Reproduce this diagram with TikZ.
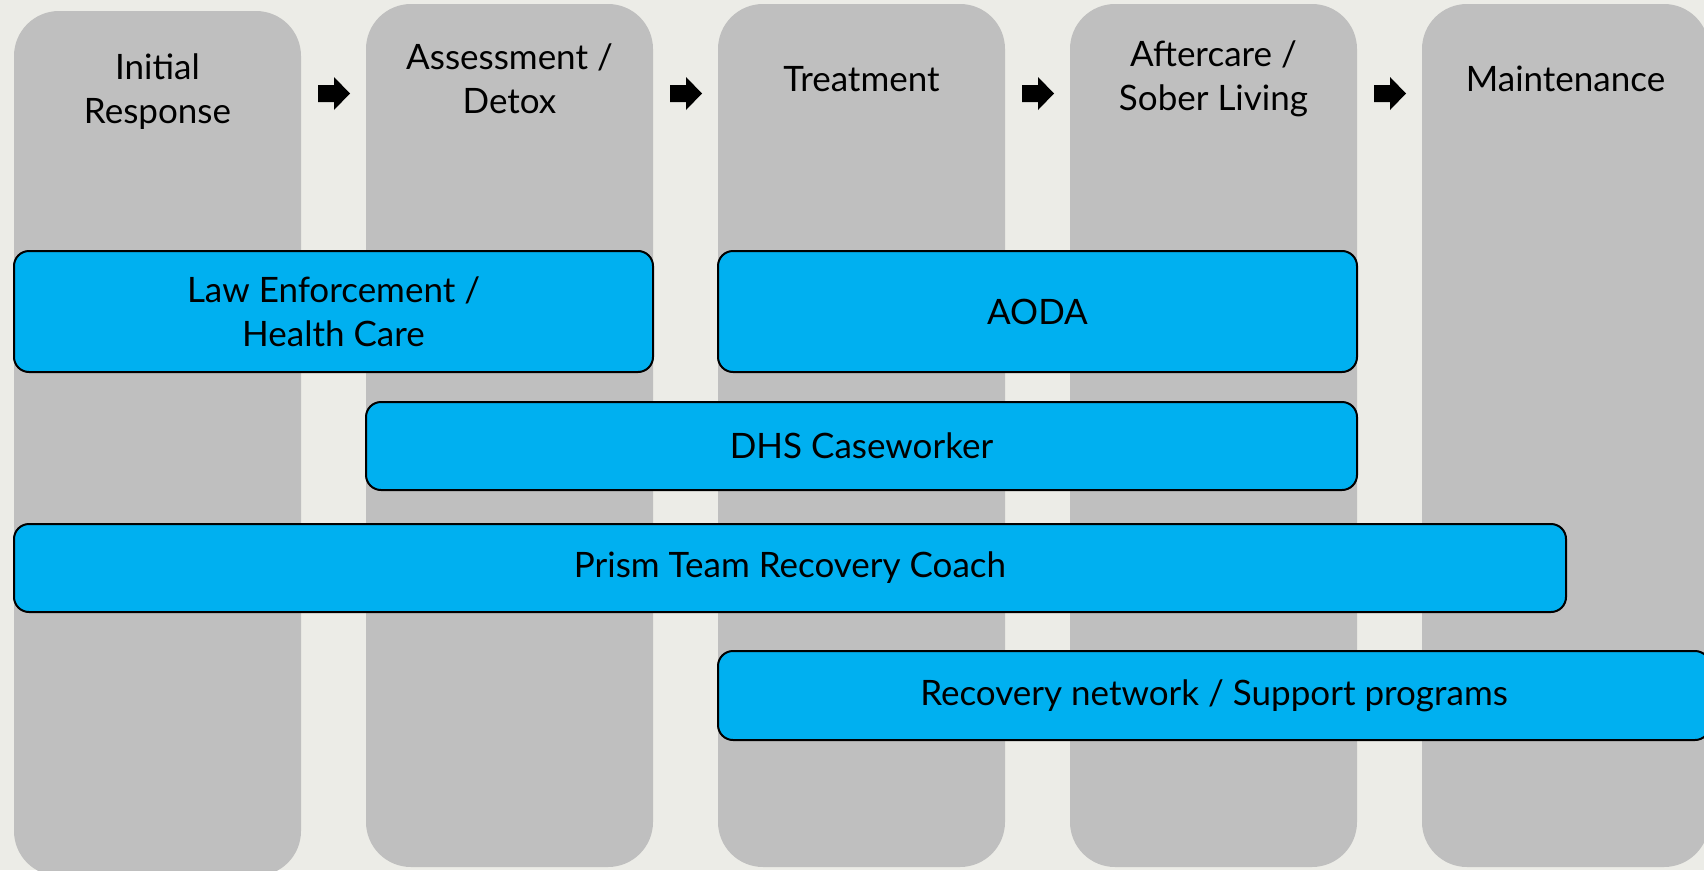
\documentclass[tikz,border=0pt]{standalone}
\usepackage{fontspec}
\setmainfont{Lato}
\definecolor{bg}{RGB}{236,236,231}
\definecolor{colgray}{RGB}{191,191,191}
\definecolor{barblue}{RGB}{0,176,240}
\begin{document}
\begin{tikzpicture}[x=1pt,y=-1pt,
  col/.style={fill=colgray, rounded corners=45pt, minimum width=287pt, inner sep=0pt},
  lab/.style={align=center, font=\fontsize{35}{44}\selectfont, text=black, inner sep=0pt},
  bar/.style={fill=barblue, draw=black, line width=2pt, rounded corners=15pt, inner sep=0pt,
              align=center, font=\fontsize{35}{44}\selectfont, text=black},
  blockarrow/.style={fill=black}]
\fill[bg] (0,0) rectangle (1704,870);
\useasboundingbox (0,0) rectangle (1704,870);
\clip (0,0) rectangle (1704,870);
% columns
\node[col, minimum height=865pt] (c1) at (157.5,443.5) {};
\node[col, minimum height=863pt] (c2) at (509.5,435.5) {};
\node[col, minimum height=863pt] (c3) at (861.5,435.5) {};
\node[col, minimum height=863pt] (c4) at (1213.5,435.5) {};
\node[col, minimum height=863pt] (c5) at (1565.5,435.5) {};
% column labels
\node[lab] (l1) at (157.5,92) {Initial\\Response};
\node[lab] (l2) at (509.5,79) {Assessment /\\Detox};
\node[lab] (l3) at (861.5,79) {Treatment};
\node[lab] (l4) at (1213.5,79) {Aftercare /\\Sober Living};
\node[lab] (l5) at (1565.5,79) {Maintenance};
% arrows
\foreach \ax in {318,670,1022,1374}{
  \fill[blockarrow] (\ax,85) -- (\ax+16,85) -- (\ax+16,77) -- (\ax+32,93.5)
     -- (\ax+16,110) -- (\ax+16,102) -- (\ax,102) -- cycle;
}
% bars
\node[bar, minimum width=639pt, minimum height=121pt] (b1) at (333.5,311.5) {Law Enforcement /\\Health Care};
\node[bar, minimum width=639pt, minimum height=121pt] (b2) at (1037.5,311.5) {AODA};
\node[bar, minimum width=991pt, minimum height=88pt] (b3) at (861.5,446) {DHS Caseworker};
\node[bar, minimum width=1552pt, minimum height=88pt] (b4) at (790,568) {Prism Team Recovery Coach};
\node[bar, minimum width=992pt, minimum height=89pt] (b5) at (1214,695.5) {Recovery network / Support programs};
\end{tikzpicture}
\end{document}
